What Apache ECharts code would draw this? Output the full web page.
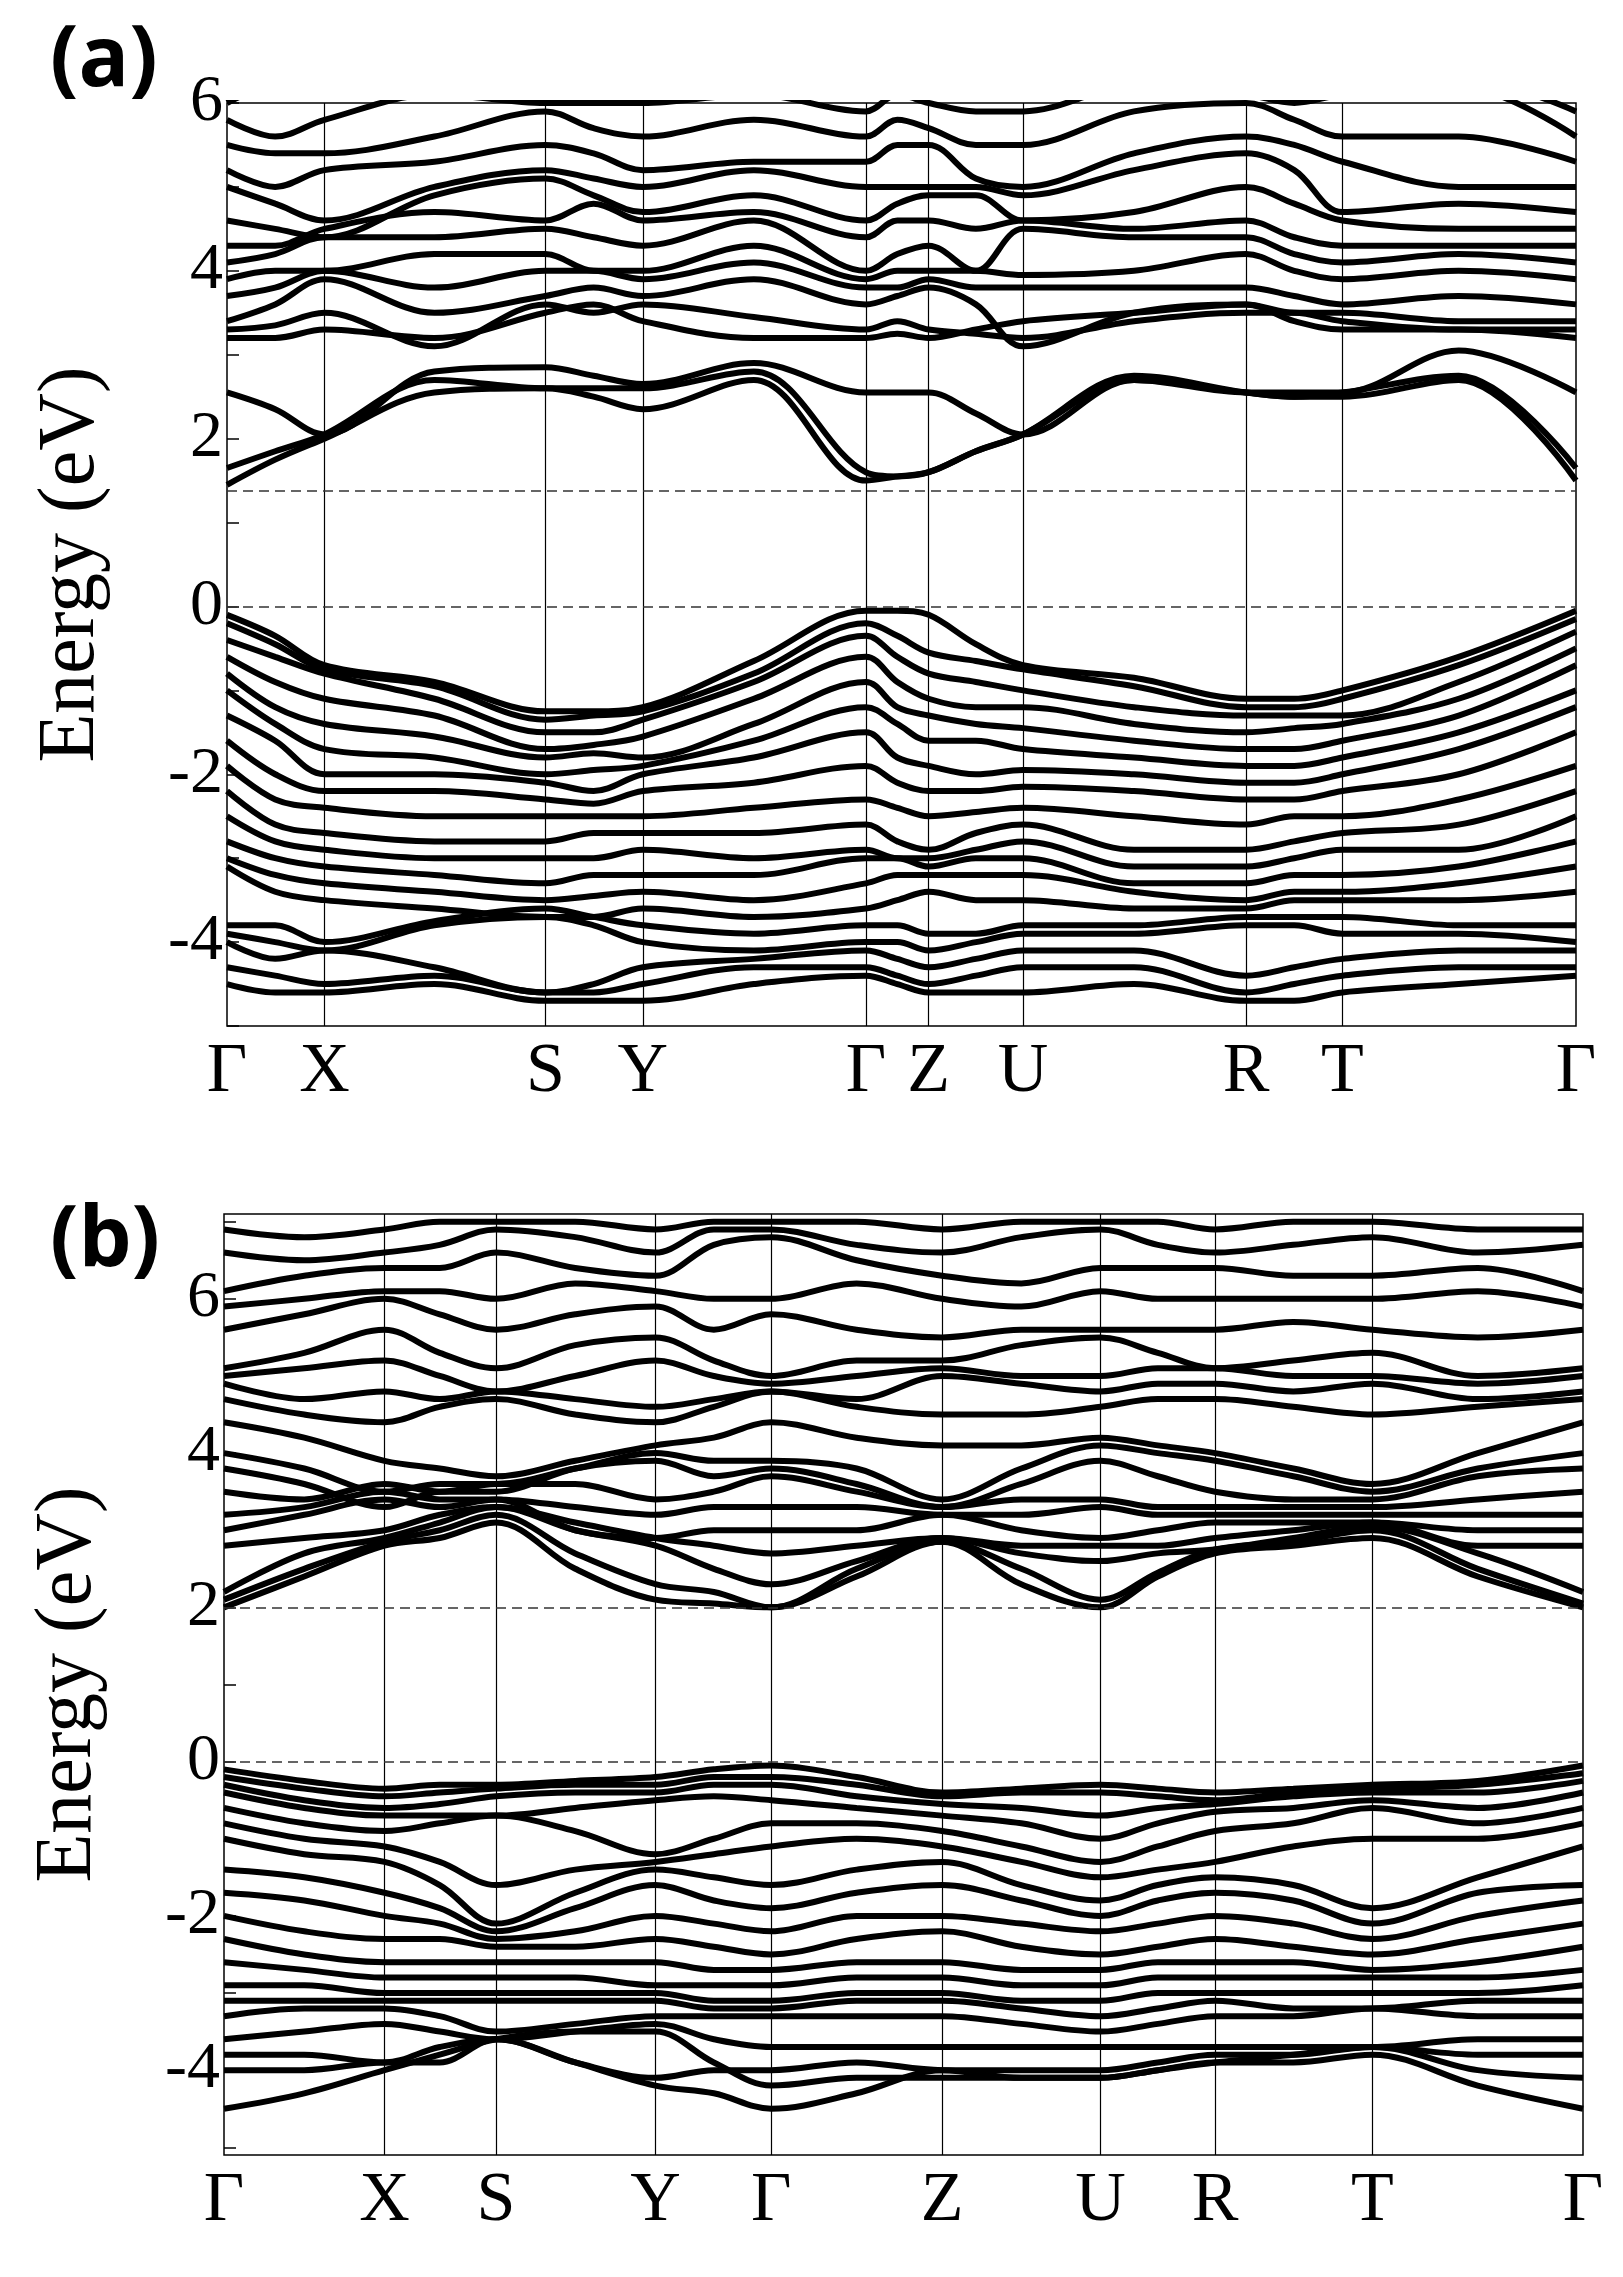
<!DOCTYPE html>
<html><head><meta charset="utf-8">
<script src="https://cdn.jsdelivr.net/npm/echarts@6/dist/echarts.min.js"></script>
<style>html,body{margin:0;padding:0;background:#fff}#c{width:1623px;height:2277px}</style>
</head><body><div id="c"></div>
<script>
// Panel (a) path
const kLabelsA = ['Γ','X','S','Y','Γ','Z','U','R','T','Γ'];
const kPosA = [0,93,304,397,610,670,760,973,1065,1288];
const xA = [0,46,93,198,304,350,397,503,610,640,670,715,760,866,973,1019,1065,1176,1288];
const aCB = [
[1.45,1.75,2.0,2.55,2.6,2.5,2.35,2.7,1.5,1.55,1.6,1.85,2.05,2.7,2.55,2.5,2.5,2.7,1.5],
[1.65,1.85,2.05,2.7,2.6,2.6,2.6,2.8,1.6,1.55,1.6,1.85,2.05,2.75,2.55,2.5,2.55,2.75,1.65],
[2.55,2.35,2.05,2.8,2.85,2.75,2.65,2.9,2.55,2.55,2.55,2.3,2.05,2.7,2.55,2.55,2.55,3.05,2.55],
[3.2,3.2,3.3,3.2,3.5,3.6,3.4,3.2,3.2,3.25,3.2,3.3,3.4,3.5,3.6,3.4,3.3,3.3,3.2],
[3.3,3.35,3.5,3.1,3.6,3.5,3.6,3.45,3.3,3.4,3.3,3.25,3.2,3.4,3.5,3.5,3.4,3.3,3.3],
[3.4,3.6,3.9,3.5,3.7,3.8,3.7,3.9,3.6,3.7,3.8,3.6,3.1,3.5,3.6,3.5,3.5,3.4,3.4],
[3.7,3.8,4.0,3.8,4.0,4.0,3.9,4.1,3.8,3.8,3.9,3.8,3.8,3.8,3.8,3.7,3.6,3.7,3.6],
[3.9,4.0,4.0,4.2,4.2,4.0,4.0,4.3,3.9,4.0,4.0,4.0,3.95,4.0,4.2,4.0,3.9,4.0,3.9],
[4.1,4.2,4.4,4.4,4.5,4.4,4.3,4.6,4.0,4.2,4.3,4.0,4.5,4.4,4.4,4.2,4.1,4.2,4.1],
[4.3,4.3,4.5,4.7,4.6,4.8,4.6,4.7,4.4,4.6,4.6,4.5,4.6,4.5,4.6,4.4,4.3,4.3,4.3],
[4.6,4.5,4.4,4.9,5.1,4.9,4.7,4.9,4.6,4.8,4.9,4.9,4.6,4.7,5.0,4.8,4.6,4.5,4.5],
[5.0,4.8,4.6,5.0,5.2,5.1,5.0,5.2,5.0,5.0,5.0,5.0,4.9,5.2,5.4,5.2,4.7,4.8,4.7],
[5.2,5.0,5.2,5.3,5.5,5.4,5.2,5.3,5.3,5.5,5.5,5.1,5.0,5.4,5.6,5.5,5.3,5.0,5.0],
[5.5,5.4,5.4,5.6,5.9,5.7,5.6,5.8,5.6,5.8,5.7,5.5,5.5,5.9,6.0,5.8,5.6,5.6,5.3],
[5.8,5.6,5.8,6.1,6.0,6.0,6.0,6.1,5.9,6.1,6.0,5.9,5.9,6.2,6.1,6.0,6.1,6.2,5.6],
[6.0,6.2,6.2,6.3,6.3,6.3,6.3,6.3,6.2,6.3,6.2,6.2,6.2,6.3,6.3,6.3,6.3,6.3,5.9]
];
const aVB = [
[-0.1,-0.35,-0.7,-0.9,-1.25,-1.25,-1.2,-0.65,-0.05,-0.05,-0.1,-0.45,-0.7,-0.85,-1.1,-1.1,-1.0,-0.6,-0.05],
[-0.2,-0.45,-0.75,-0.95,-1.35,-1.3,-1.25,-0.8,-0.2,-0.35,-0.55,-0.65,-0.75,-0.95,-1.2,-1.2,-1.1,-0.7,-0.15],
[-0.4,-0.6,-0.8,-1.1,-1.5,-1.5,-1.35,-0.9,-0.35,-0.6,-0.8,-0.9,-1.0,-1.2,-1.3,-1.3,-1.3,-0.9,-0.3],
[-0.6,-0.9,-1.1,-1.3,-1.7,-1.65,-1.55,-1.1,-0.6,-0.9,-1.1,-1.2,-1.2,-1.4,-1.5,-1.45,-1.4,-1.1,-0.5],
[-0.8,-1.2,-1.4,-1.55,-1.8,-1.75,-1.8,-1.4,-0.9,-1.2,-1.3,-1.4,-1.45,-1.6,-1.7,-1.7,-1.6,-1.3,-0.7],
[-1.0,-1.4,-1.7,-1.8,-2.0,-1.95,-1.9,-1.6,-1.2,-1.4,-1.6,-1.6,-1.7,-1.8,-1.9,-1.9,-1.8,-1.5,-1.0],
[-1.3,-1.6,-2.0,-2.0,-2.1,-2.2,-2.0,-1.8,-1.5,-1.8,-1.9,-2.0,-1.95,-2.0,-2.1,-2.1,-2.0,-1.7,-1.2],
[-1.6,-2.0,-2.2,-2.2,-2.3,-2.35,-2.2,-2.1,-1.9,-2.1,-2.2,-2.2,-2.15,-2.2,-2.3,-2.3,-2.2,-2.0,-1.5],
[-1.9,-2.3,-2.4,-2.5,-2.5,-2.5,-2.5,-2.4,-2.3,-2.4,-2.5,-2.45,-2.4,-2.5,-2.6,-2.5,-2.5,-2.3,-1.9],
[-2.2,-2.6,-2.7,-2.8,-2.8,-2.7,-2.7,-2.7,-2.6,-2.8,-2.9,-2.7,-2.6,-2.9,-2.9,-2.8,-2.7,-2.6,-2.2],
[-2.5,-2.8,-2.9,-3.0,-3.0,-3.0,-2.9,-3.0,-2.9,-3.0,-3.0,-2.9,-2.8,-3.1,-3.1,-3.0,-2.9,-2.9,-2.5],
[-2.8,-3.0,-3.1,-3.2,-3.3,-3.2,-3.2,-3.2,-3.0,-3.0,-3.1,-3.0,-3.0,-3.3,-3.3,-3.2,-3.2,-3.1,-2.8],
[-3.0,-3.2,-3.3,-3.4,-3.5,-3.45,-3.4,-3.5,-3.3,-3.2,-3.2,-3.2,-3.2,-3.4,-3.5,-3.4,-3.4,-3.3,-3.1],
[-3.1,-3.4,-3.5,-3.6,-3.7,-3.7,-3.6,-3.7,-3.6,-3.5,-3.4,-3.5,-3.5,-3.6,-3.6,-3.5,-3.5,-3.5,-3.4],
[-3.8,-3.8,-4.0,-3.75,-3.6,-3.7,-3.8,-3.9,-3.8,-3.8,-3.9,-3.9,-3.8,-3.8,-3.7,-3.7,-3.7,-3.8,-3.8],
[-3.9,-4.0,-4.1,-3.8,-3.7,-3.8,-4.0,-4.1,-4.0,-4.0,-4.1,-4.0,-3.9,-3.9,-3.8,-3.8,-3.9,-3.9,-4.0],
[-4.0,-4.2,-4.1,-4.3,-4.6,-4.5,-4.3,-4.2,-4.1,-4.2,-4.3,-4.2,-4.1,-4.1,-4.4,-4.3,-4.2,-4.1,-4.1],
[-4.3,-4.4,-4.5,-4.4,-4.6,-4.6,-4.5,-4.3,-4.3,-4.4,-4.5,-4.4,-4.3,-4.3,-4.6,-4.5,-4.4,-4.3,-4.3],
[-4.5,-4.6,-4.6,-4.5,-4.7,-4.7,-4.7,-4.5,-4.4,-4.5,-4.6,-4.6,-4.6,-4.5,-4.7,-4.7,-4.6,-4.5,-4.4]
];
const dashA = [0, 1.38];
const yRangeA = [-5, 6];

// Panel (b) path
const kLabelsB = ['Γ','X','S','Y','Γ','Z','U','R','T','Γ'];
const kPosB = [0,154,261,414,525,689,841,951,1102,1304];
const xB = [0,77,154,207,261,337,414,470,525,607,689,765,841,896,951,1026,1102,1203,1304];
const bCB = [
[2.0,2.4,2.8,2.9,3.1,2.5,2.1,2.05,2.0,2.4,2.85,2.3,2.0,2.4,2.7,2.8,2.9,2.4,2.0],
[2.1,2.5,2.85,3.0,3.2,2.7,2.3,2.2,2.0,2.5,2.85,2.5,2.1,2.45,2.75,2.85,3.0,2.5,2.05],
[2.2,2.7,2.9,3.1,3.3,3.0,2.8,2.5,2.3,2.6,2.9,2.7,2.6,2.7,2.75,2.9,3.05,2.7,2.2],
[2.8,2.9,3.0,3.2,3.3,3.1,2.9,2.8,2.7,2.8,2.9,2.8,2.8,2.8,2.9,3.0,3.1,2.8,2.8],
[3.0,3.2,3.4,3.3,3.4,3.0,2.9,3.0,3.0,3.0,3.2,3.0,2.9,3.0,3.1,3.1,3.1,3.0,3.0],
[3.2,3.3,3.5,3.4,3.4,3.3,3.2,3.3,3.3,3.3,3.2,3.2,3.3,3.2,3.2,3.2,3.2,3.2,3.2],
[3.5,3.4,3.6,3.5,3.6,3.6,3.4,3.5,3.7,3.5,3.3,3.4,3.4,3.3,3.3,3.3,3.3,3.4,3.5],
[3.8,3.6,3.3,3.5,3.5,3.8,3.9,3.7,3.8,3.6,3.3,3.6,3.9,3.7,3.5,3.4,3.4,3.7,3.8],
[4.0,3.8,3.5,3.6,3.6,3.8,4.0,3.9,3.9,3.8,3.4,3.8,4.1,4.0,3.9,3.7,3.5,3.8,4.0],
[4.4,4.2,3.9,3.8,3.7,3.9,4.1,4.2,4.4,4.2,4.1,4.1,4.2,4.1,4.0,3.8,3.6,4.0,4.4],
[4.7,4.5,4.4,4.6,4.7,4.5,4.4,4.6,4.8,4.6,4.5,4.5,4.6,4.7,4.7,4.6,4.5,4.6,4.7],
[4.9,4.7,4.8,4.7,4.8,4.7,4.6,4.7,4.8,4.7,5.0,4.9,4.8,4.9,4.9,4.8,4.9,4.7,4.8],
[5.0,5.1,5.2,5.0,4.8,5.0,5.2,5.0,4.9,5.0,5.1,5.0,5.0,5.1,5.1,5.0,5.0,4.9,5.0],
[5.1,5.3,5.6,5.3,5.1,5.4,5.5,5.2,5.0,5.2,5.2,5.4,5.5,5.3,5.1,5.2,5.3,5.0,5.1],
[5.6,5.8,6.0,5.8,5.6,5.8,5.9,5.6,5.8,5.6,5.5,5.6,5.6,5.6,5.6,5.7,5.6,5.5,5.6],
[5.9,6.0,6.1,6.1,6.0,6.2,6.1,6.0,6.0,6.2,6.0,5.9,6.1,6.0,6.0,6.0,6.0,6.1,5.9],
[6.1,6.3,6.4,6.4,6.6,6.4,6.3,6.7,6.8,6.5,6.3,6.2,6.4,6.4,6.4,6.3,6.3,6.4,6.1],
[6.6,6.5,6.6,6.7,6.9,6.8,6.6,6.9,6.9,6.7,6.6,6.8,6.9,6.7,6.6,6.7,6.8,6.6,6.7],
[6.9,6.8,6.9,7.0,7.0,7.0,6.9,7.0,7.0,7.0,6.9,7.0,7.0,7.0,6.9,7.0,7.0,6.9,6.9]
];
const bVB = [
[-0.1,-0.25,-0.35,-0.3,-0.3,-0.25,-0.2,-0.1,-0.05,-0.2,-0.4,-0.35,-0.3,-0.35,-0.4,-0.35,-0.3,-0.25,-0.05],
[-0.2,-0.35,-0.45,-0.4,-0.35,-0.3,-0.3,-0.2,-0.2,-0.3,-0.45,-0.4,-0.4,-0.45,-0.5,-0.4,-0.35,-0.3,-0.15],
[-0.3,-0.5,-0.6,-0.55,-0.45,-0.4,-0.4,-0.3,-0.3,-0.45,-0.55,-0.6,-0.7,-0.6,-0.55,-0.45,-0.4,-0.4,-0.25],
[-0.4,-0.6,-0.7,-0.7,-0.7,-0.6,-0.5,-0.45,-0.5,-0.6,-0.7,-0.8,-1.0,-0.8,-0.65,-0.6,-0.5,-0.6,-0.4],
[-0.6,-0.8,-0.9,-0.8,-0.7,-0.9,-1.2,-1.0,-0.8,-0.8,-0.9,-1.1,-1.3,-1.1,-0.9,-0.8,-0.6,-0.8,-0.6],
[-0.8,-1.0,-1.1,-1.3,-1.6,-1.4,-1.3,-1.2,-1.1,-1.0,-1.1,-1.3,-1.5,-1.4,-1.3,-1.1,-1.0,-1.0,-0.8],
[-1.0,-1.2,-1.3,-1.6,-2.1,-1.7,-1.4,-1.5,-1.6,-1.4,-1.3,-1.6,-1.8,-1.6,-1.5,-1.6,-1.9,-1.5,-1.1],
[-1.4,-1.5,-1.7,-1.9,-2.2,-1.9,-1.6,-1.8,-1.9,-1.7,-1.6,-1.8,-2.0,-1.8,-1.7,-1.8,-2.1,-1.7,-1.6],
[-1.7,-1.8,-2.0,-2.1,-2.3,-2.2,-2.0,-2.1,-2.2,-2.0,-2.0,-2.1,-2.2,-2.1,-2.0,-2.1,-2.3,-2.0,-1.8],
[-2.0,-2.2,-2.3,-2.3,-2.4,-2.4,-2.3,-2.4,-2.5,-2.3,-2.2,-2.4,-2.5,-2.4,-2.3,-2.4,-2.5,-2.3,-2.1],
[-2.3,-2.5,-2.6,-2.6,-2.6,-2.6,-2.6,-2.7,-2.7,-2.6,-2.6,-2.7,-2.7,-2.6,-2.6,-2.6,-2.7,-2.6,-2.4],
[-2.6,-2.7,-2.8,-2.8,-2.8,-2.8,-2.9,-2.9,-2.9,-2.8,-2.8,-2.9,-2.9,-2.8,-2.8,-2.8,-2.8,-2.8,-2.7],
[-2.9,-2.9,-3.0,-3.0,-3.0,-3.0,-3.0,-3.1,-3.1,-3.0,-3.0,-3.1,-3.1,-3.0,-3.0,-3.0,-3.0,-3.0,-2.9],
[-3.1,-3.1,-3.1,-3.1,-3.1,-3.1,-3.1,-3.2,-3.2,-3.1,-3.1,-3.2,-3.3,-3.2,-3.1,-3.2,-3.2,-3.1,-3.1],
[-3.3,-3.2,-3.2,-3.3,-3.5,-3.4,-3.3,-3.3,-3.3,-3.3,-3.3,-3.4,-3.5,-3.4,-3.3,-3.3,-3.2,-3.3,-3.3],
[-3.6,-3.5,-3.4,-3.5,-3.6,-3.5,-3.4,-3.6,-3.7,-3.7,-3.7,-3.7,-3.7,-3.7,-3.7,-3.7,-3.7,-3.6,-3.6],
[-3.8,-3.8,-3.9,-3.7,-3.6,-3.9,-4.1,-4.0,-4.0,-3.9,-4.0,-4.0,-4.0,-3.9,-3.8,-3.8,-3.7,-3.8,-3.8],
[-4.0,-4.0,-3.9,-3.9,-3.6,-3.9,-4.2,-4.3,-4.5,-4.3,-4.0,-4.1,-4.1,-4.0,-3.9,-3.8,-3.7,-4.0,-4.1],
[-4.5,-4.3,-4.0,-3.8,-3.6,-3.5,-3.5,-3.9,-4.2,-4.1,-4.1,-4.1,-4.1,-4.0,-3.9,-3.9,-3.8,-4.2,-4.5]
];
const dashB = [0, 2.0];
const yRangeB = [-5.1, 7.1];

const yLabelVals = [-4,-2,0,2,4,6];
const yTickA = [-5,-4,-3,-2,-1,0,1,2,3,4,5,6];
const yTickB = [-5,-4,-3,-2,-1,0,1,2,3,4,5,6,7];

const serif = 'Liberation Serif';
const chart = echarts.init(document.getElementById('c'));
const grids = [
  {left:227, top:103, width:1349, height:923, show:true, borderColor:'#000', borderWidth:1.5},
  {left:224, top:1214, width:1359, height:941, show:true, borderColor:'#000', borderWidth:1.5}
];
function xAx(i, kPos, kLab){
  return {type:'value', gridIndex:i, min:kPos[0], max:kPos[kPos.length-1],
    axisLine:{show:false}, axisTick:{show:false}, splitLine:{show:false},
    axisLabel:{customValues:kPos, formatter:(v)=>kLab[kPos.indexOf(v)], color:'#000',
      fontFamily:serif, fontSize:70, margin:12}};
}
function yAx(i, r, ticks){
  return {type:'value', gridIndex:i, min:r[0], max:r[1],
    name:'Energy (eV)', nameLocation:'middle', nameGap:115,
    nameTextStyle:{fontFamily:serif, fontSize:80, color:'#000'},
    axisLine:{show:false}, splitLine:{show:false},
    axisTick:{show:true, inside:true, length:12, customValues:ticks, lineStyle:{color:'#000',width:1.5}},
    axisLabel:{customValues:yLabelVals, color:'#000', fontFamily:serif, fontSize:66, margin:4}};
}
const series = [];
function addPanel(i, xs, bands, kPos, dash){
  bands.forEach(b=>{
    series.push({type:'line', xAxisIndex:i, yAxisIndex:i, smooth:0.35, symbol:'none', silent:true,
      lineStyle:{color:'#000', width:6}, data:xs.map((x,j)=>[x,b[j]]), clip:true});
  });
  series.push({type:'line', xAxisIndex:i, yAxisIndex:i, data:[], symbol:'none', silent:true,
    markLine:{symbol:'none', silent:true, label:{show:false},
      data: kPos.slice(1,-1).map(v=>({xAxis:v, lineStyle:{type:'solid', color:'#000', width:1.2}}))
        .concat(dash.map(v=>({yAxis:v, lineStyle:{type:[10,6], color:'#333', width:1.5}})))}});
}
addPanel(0, xA, aCB.concat(aVB), kPosA, dashA);
addPanel(1, xB, bCB.concat(bVB), kPosB, dashB);
chart.setOption({
  animation:false,
  backgroundColor:'#fff',
  grid:grids,
  xAxis:[xAx(0,kPosA,kLabelsA), xAx(1,kPosB,kLabelsB)],
  yAxis:[yAx(0,yRangeA,yTickA), yAx(1,yRangeB,yTickB)],
  graphic:[
    {type:'text', left:50, top:20, style:{text:'(a)', font:'bold 84px "Open Sans", "DejaVu Sans", sans-serif', fill:'#000'}},
    {type:'text', left:50, top:1200, style:{text:'(b)', font:'bold 84px "Open Sans", "DejaVu Sans", sans-serif', fill:'#000'}}
  ],
  series:series
});
</script></body></html>
